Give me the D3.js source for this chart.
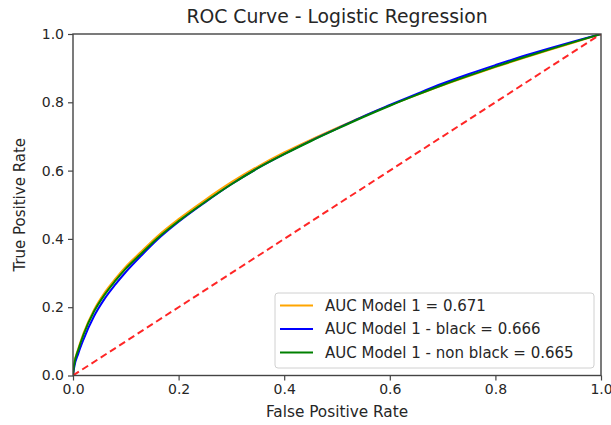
<!DOCTYPE html>
<html>
<head>
<meta charset="utf-8">
<script src="https://cdn.jsdelivr.net/npm/d3@7"></script>
<style>
  html, body { margin: 0; padding: 0; background: #fff; }
  svg { display: block; font-family: "DejaVu Sans", sans-serif; }
</style>
</head>
<body>
<svg id="chart" width="611" height="425"></svg>
<script>
// ROC curves for the logistic regression model (overall and by subgroup)
const chartTitle = "ROC Curve - Logistic Regression";
const xLabel = "False Positive Rate";
const yLabel = "True Positive Rate";
const tickValues = [0, 0.2, 0.4, 0.6, 0.8, 1.0];

const fprOverall = [0, 0.002, 0.01, 0.02, 0.04, 0.06, 0.08, 0.1, 0.13, 0.16, 0.2, 0.25, 0.3, 0.35, 0.4, 0.45, 0.5, 0.55, 0.6, 0.65, 0.7, 0.75, 0.8, 0.85, 0.9, 0.95, 1];
const tprOverall = [0, 0.031, 0.078, 0.124, 0.193, 0.243, 0.283, 0.319, 0.364, 0.408, 0.458, 0.514, 0.566, 0.612, 0.653, 0.69, 0.725, 0.759, 0.791, 0.821, 0.85, 0.877, 0.903, 0.928, 0.952, 0.976, 1];

const fprBlack = [0, 0.002, 0.01, 0.02, 0.04, 0.06, 0.08, 0.1, 0.13, 0.16, 0.2, 0.25, 0.3, 0.35, 0.4, 0.45, 0.5, 0.55, 0.6, 0.65, 0.7, 0.75, 0.8, 0.85, 0.9, 0.95, 1];
const tprBlack = [0, 0.022, 0.064, 0.106, 0.174, 0.225, 0.266, 0.303, 0.352, 0.398, 0.45, 0.507, 0.56, 0.607, 0.648, 0.687, 0.723, 0.759, 0.792, 0.824, 0.855, 0.883, 0.909, 0.934, 0.957, 0.979, 1];

const fprNonBlack = [0, 0.002, 0.01, 0.02, 0.04, 0.06, 0.08, 0.1, 0.13, 0.16, 0.2, 0.25, 0.3, 0.35, 0.4, 0.45, 0.5, 0.55, 0.6, 0.65, 0.7, 0.75, 0.8, 0.85, 0.9, 0.95, 1];
const tprNonBlack = [0, 0.03, 0.075, 0.12, 0.188, 0.237, 0.277, 0.313, 0.358, 0.402, 0.452, 0.508, 0.56, 0.607, 0.648, 0.686, 0.722, 0.757, 0.79, 0.821, 0.8505, 0.878, 0.9045, 0.9295, 0.9535, 0.977, 1];

const seriesNames = ["AUC Model 1 = 0.671", "AUC Model 1 - black = 0.666", "AUC Model 1 - non black = 0.665"];
const seriesColors = ["orange", "blue", "green"];
const chanceLine = [0, 1];

const series = [
  { name: seriesNames[0], color: seriesColors[0], fpr: fprOverall, tpr: tprOverall },
  { name: seriesNames[1], color: seriesColors[1], fpr: fprBlack, tpr: tprBlack },
  { name: seriesNames[2], color: seriesColors[2], fpr: fprNonBlack, tpr: tprNonBlack }
];

const svg = d3.select("#chart");
const margin = { left: 73, right: 10, top: 34, bottom: 49.5 };
const W = 611, H = 425;
const x = d3.scaleLinear().domain([0, 1]).range([margin.left, W - margin.right]);
const y = d3.scaleLinear().domain([0, 1]).range([H - margin.bottom, margin.top]);
const textColor = "#262626";
const axisColor = "#444";

// plot area clip
svg.append("defs").append("clipPath").attr("id", "plotClip")
  .append("rect")
  .attr("x", x(0)).attr("y", y(1))
  .attr("width", x(1) - x(0)).attr("height", y(0) - y(1));

const line = d3.line().x(d => x(d[0])).y(d => y(d[1])).curve(d3.curveMonotoneX);

const plot = svg.append("g").attr("clip-path", "url(#plotClip)");
series.forEach(s => {
  plot.append("path")
    .datum(s.fpr.map((v, i) => [v, s.tpr[i]]))
    .attr("fill", "none")
    .attr("stroke", s.color)
    .attr("stroke-width", 2)
    .attr("d", line);
});

// chance diagonal
plot.append("path")
  .datum(chanceLine.map(v => [v, v]))
  .attr("fill", "none")
  .attr("stroke", "red")
  .attr("stroke-opacity", 0.85)
  .attr("stroke-width", 2)
  .attr("stroke-dasharray", "7,4")
  .attr("d", d3.line().x(d => x(d[0])).y(d => y(d[1])));

// axes
const fmt = d3.format(".1f");
const xAxis = svg.append("g")
  .attr("transform", `translate(0,${y(0)})`)
  .call(d3.axisBottom(x).tickValues(tickValues).tickFormat(fmt).tickSize(5).tickPadding(4));
const yAxis = svg.append("g")
  .attr("transform", `translate(${x(0)},0)`)
  .call(d3.axisLeft(y).tickValues(tickValues).tickFormat(fmt).tickSize(5).tickPadding(4));
[xAxis, yAxis].forEach(g => {
  g.select(".domain").remove();
  g.selectAll(".tick line").attr("stroke", axisColor).attr("stroke-width", 1.2);
  g.selectAll(".tick text").attr("fill", textColor).style("font-size", "14px")
    .style("font-family", "'DejaVu Sans', sans-serif");
});

// frame
svg.append("rect")
  .attr("x", x(0)).attr("y", y(1))
  .attr("width", x(1) - x(0)).attr("height", y(0) - y(1))
  .attr("fill", "none").attr("stroke", axisColor).attr("stroke-width", 1.4);

// title and axis labels
svg.append("text")
  .attr("x", (x(0) + x(1)) / 2).attr("y", 23)
  .attr("text-anchor", "middle").attr("fill", textColor)
  .style("font-size", "18.8px")
  .text(chartTitle);
svg.append("text")
  .attr("x", (x(0) + x(1)) / 2).attr("y", 417)
  .attr("text-anchor", "middle").attr("fill", textColor)
  .style("font-size", "15.3px")
  .text(xLabel);
svg.append("text")
  .attr("transform", `translate(25,${(y(0) + y(1)) / 2}) rotate(-90)`)
  .attr("text-anchor", "middle").attr("fill", textColor)
  .style("font-size", "15px")
  .text(yLabel);

// legend
const lg = svg.append("g").attr("transform", "translate(275,293)");
lg.append("rect")
  .attr("width", 319).attr("height", 75).attr("rx", 3)
  .attr("fill", "white").attr("fill-opacity", 0.85)
  .attr("stroke", "#d0d0d0").attr("stroke-width", 1);
series.forEach((s, i) => {
  const cy = 12.5 + i * 23.5;
  lg.append("line")
    .attr("x1", 5).attr("x2", 38).attr("y1", cy).attr("y2", cy)
    .attr("stroke", s.color).attr("stroke-width", 2);
  lg.append("text")
    .attr("x", 50).attr("y", cy).attr("dy", "0.36em")
    .attr("fill", textColor).style("font-size", "15px")
    .text(s.name);
});
</script>
</body>
</html>
